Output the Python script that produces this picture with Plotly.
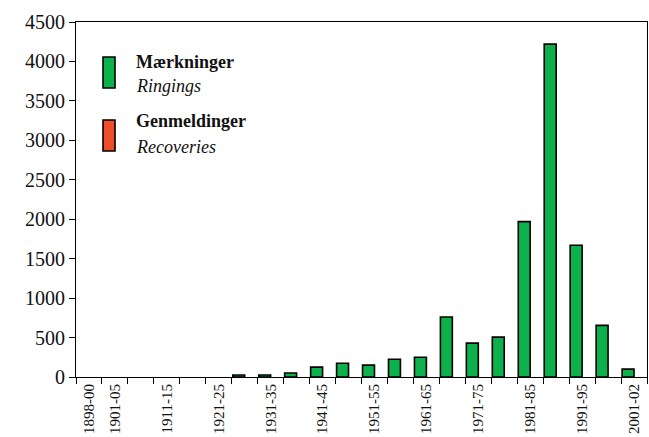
import plotly.graph_objects as go

periods = ["1898-00", "1901-05", "1906-10", "1911-15", "1916-20", "1921-25",
           "1926-30", "1931-35", "1936-40", "1941-45", "1946-50", "1951-55",
           "1956-60", "1961-65", "1966-70", "1971-75", "1976-80", "1981-85",
           "1986-90", "1991-95", "1996-00", "2001-02"]
ringings = [0, 0, 0, 0, 0, 0, 25, 25, 50, 125, 175, 150, 225, 250, 760, 430,
            505, 1970, 4220, 1670, 655, 100]
recoveries = [0] * len(periods)
shown_labels = ["1898-00", "1901-05", "1911-15", "1921-25", "1931-35", "1941-45",
                "1951-55", "1961-65", "1971-75", "1981-85", "1991-95", "2001-02"]
tick_text = [p if p in shown_labels else "" for p in periods]
y_ticks = list(range(0, 4501, 500))

GREEN = "#0db14b"
RED = "#ee4d2a"
FONT = "Liberation Serif"

fig = go.Figure()
fig.add_trace(go.Bar(x=periods, y=ringings, name="Mærkninger",
                     marker=dict(color=GREEN,
                                 line=dict(color="black",
                                           width=[1.6 if v > 0 else 0 for v in ringings]))))
fig.add_trace(go.Bar(x=periods, y=recoveries, name="Genmeldinger",
                     marker=dict(color=RED,
                                 line=dict(color="black",
                                           width=[1.6 if v > 0 else 0 for v in recoveries]))))

fig.update_layout(
    width=649, height=437,
    margin=dict(l=76, r=2, t=22, b=60, autoexpand=False),
    paper_bgcolor="white", plot_bgcolor="white",
    barmode="group", bargap=0.08, bargroupgap=0,
    showlegend=False,
    font=dict(family=FONT, color="#111111"),
)
fig.update_xaxes(
    type="category", tickvals=periods, ticktext=tick_text,
    tickangle=-90, tickfont=dict(size=15, family=FONT),
    ticks="outside", ticklen=6, tickcolor="black", tickson="boundaries",
    showline=True, linecolor="black", linewidth=1, mirror=True,
    showgrid=False,
)
fig.update_yaxes(
    range=[0, 4500], tickvals=y_ticks, tickfont=dict(size=20, family=FONT),
    ticks="outside", ticklen=6, tickcolor="black",
    showline=True, linecolor="black", linewidth=1, mirror=True,
    showgrid=False, zeroline=False,
)

# custom legend (tall swatches, two-line bilingual labels)
def px(x):
    return (x - 76) / (647 - 76)
def py(y):
    return 1 - (y - 22) / (377 - 22)

for color, y0, y1 in [(GREEN, 57, 88), (RED, 120, 151)]:
    fig.add_shape(type="rect", xref="paper", yref="paper",
                  x0=px(103), x1=px(115), y0=py(y1), y1=py(y0),
                  fillcolor=color, line=dict(color="black", width=1.6))

for text, y in [("<b>Mærkninger</b>", 62), ("<i>Ringings</i>", 86),
                ("<b>Genmeldinger</b>", 121), ("<i>Recoveries</i>", 147)]:
    fig.add_annotation(text=text, xref="paper", yref="paper",
                       x=px(134), y=py(y), xanchor="left", yanchor="middle",
                       showarrow=False, font=dict(size=18, family=FONT, color="#111111"))

fig.write_html("out.html", config={"displayModeBar": False},
               post_script="document.body.style.margin='0';")
